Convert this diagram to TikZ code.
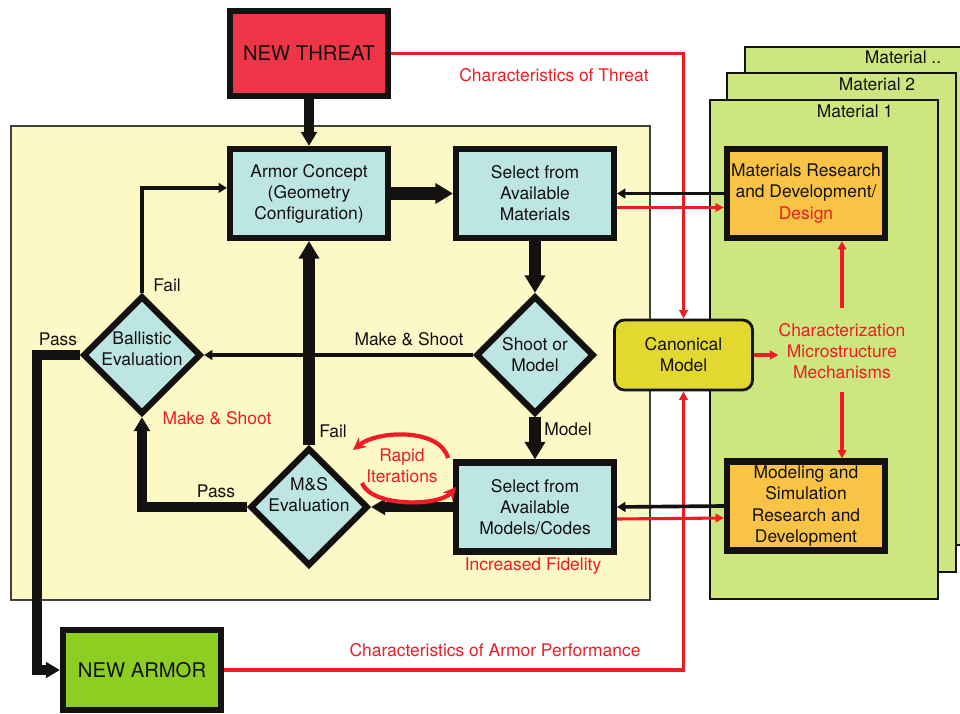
\documentclass[tikz,border=0pt]{standalone}
\usepackage{fontspec}
\setmainfont{TeX Gyre Heros}
\usetikzlibrary{shapes.geometric,arrows.meta}

\definecolor{threatred}{RGB}{238,54,72}
\definecolor{boxcyan}{RGB}{189,229,227}
\definecolor{bgyellow}{RGB}{252,249,198}
\definecolor{matgreen}{RGB}{205,230,127}
\definecolor{rdorange}{RGB}{249,196,69}
\definecolor{canonyellow}{RGB}{227,216,48}
\definecolor{armorgreen}{RGB}{140,207,34}
\definecolor{linered}{RGB}{238,28,36}
\definecolor{ink}{RGB}{20,18,16}

\newcommand{\diatext}[2]{\raisebox{#1}[0pt][0pt]{\begin{tabular}{@{}c@{}}#2\end{tabular}}}

\tikzset{
	every node/.style={font=\fontsize{12.4}{15}\selectfont, text=ink},
	bigfont/.style={font=\fontsize{14.4}{17}\selectfont},
	block/.style={draw=ink, line width=4.3pt, fill=boxcyan, minimum width=3.95cm, minimum height=2.225cm, align=center, inner sep=0pt},
	decision/.style={diamond, aspect=1, draw=ink, line width=4.3pt, fill=boxcyan, minimum size=2.95cm, align=center, inner sep=0pt},
	fatflow/.style={draw=ink, line width=9.2pt, -{Triangle[length=12.5pt,width=14pt]}},
	flow/.style={draw=ink, line width=6.8pt, -{Triangle[length=10pt,width=11pt]}},
	thinflow/.style={draw=ink, line width=2.6pt, -{Triangle[length=6pt,width=7pt]}},
	redflow/.style={draw=linered, line width=2.2pt, -{Triangle[length=6pt,width=6pt]}},
	rapidflow/.style={draw=linered, line width=3pt, -{Stealth[length=9pt,width=9pt]}},
	sheet/.style={draw=ink, line width=1.2pt, fill=matgreen}
}

\begin{document}
\begin{tikzpicture}[x=0.025cm,y=-0.025cm]

	\useasboundingbox (0,0) rectangle (960,714);
	\clip (0,0) rectangle (960,714);

	\draw[draw=ink!80, line width=1pt, fill=bgyellow] (11,126) rectangle (650,600);
	\draw[sheet] (745,47) rectangle (990,545);
	\draw[sheet] (727,73) rectangle (956,572);
	\draw[sheet] (710,100) rectangle (938,599);
	\node (mat3) at (903,57) {Material ..};
	\node (mat2) at (877,84) {Material 2};
	\node (mat1) at (855,111) {Material 1};

	\node[block, fill=threatred, minimum height=2.125cm, bigfont] (threat) at (309,53.5) {NEW THREAT};
	\node[block] (concept) at (309,193.5) {Armor Concept\\(Geometry\\Configuration)};
	\node[block] (selmat) at (535,193.5) {Select from\\Available\\Materials};
	\node[decision] (shoot) at (535,355) {Shoot or\\Model};
	\node[decision] (ballistic) at (142,355) {\diatext{0pt}{Ballistic\\Evaluation}};
	\node[decision] (mseval) at (309,507) {\diatext{0.15cm}{M\&S\\Evaluation}};
	\node[block] (selmod) at (535,507) {Select from\\Available\\Models/Codes};
	\node[block, fill=armorgreen, minimum height=2cm, bigfont] (armor) at (142,670) {NEW ARMOR};
	\node[draw=ink, line width=2pt, fill=canonyellow, rounded corners=0.25cm, minimum width=3.45cm, minimum height=1.75cm, align=center] (canon) at (683.5,355) {Canonical\\Model};
	\node[block, fill=rdorange] (matrd) at (806,193.5) {Materials Research\\and Development/\\\textcolor{linered}{Design}};
	\node[block, fill=rdorange] (msrd) at (806,506) {Modeling and\\Simulation\\Research and\\Development};
	\node[text=linered, align=center, inner sep=0pt] (charac) at (842,351) {Characterization\\Microstructure\\Mechanisms};

	\node (mslbl) at (409,339) {Make \& Shoot};
	\node (bfail) at (167,285) {Fail};
	\node (bpass) at (58,339) {Pass};
	\node[text=linered] (redshoot) at (217,418) {Make \& Shoot};
	\node (msfail) at (333,431) {Fail};
	\node (mspass) at (216,491) {Pass};
	\node (modlbl) at (568,429) {Model};
	\node[text=linered] (fidelity) at (533,566) {Increased Fidelity};
	\node[text=linered] (thrlbl) at (554,75) {Characteristics of Threat};
	\node[text=linered] (perflbl) at (495,650) {Characteristics of Armor Performance};
	\node[text=linered, align=center, inner sep=0pt] (rapid) at (402,466) {Rapid\\Iterations};

	\draw[redflow] (threat.east) -| (canon.north);
	\draw[redflow] (armor.east) -| (canon.south);

	\draw[flow] (threat) -- (concept);
	\draw[fatflow] (concept) -- (selmat);
	\draw[fatflow] (selmat) -- (shoot);
	\draw[fatflow] (shoot) -- (selmod);
	\draw[flow] (selmod) -- (mseval);
	\draw[fatflow] (mseval) -- (concept);
	\draw[flow] (mseval.west) -| (ballistic.south);
	\draw[thinflow] (shoot) -- (ballistic);
	\draw[thinflow] (ballistic.north) |- ([yshift=0.14cm]concept.west);
	\coordinate (passbend) at (37,500);
	\draw[flow] (ballistic.west) -| (passbend) |- (armor.west);

	\draw[thinflow] (matrd.west) -- (selmat.east);
	\draw[redflow] ([yshift=-0.35cm]selmat.east) -- ([yshift=-0.35cm]matrd.west);
	\draw[thinflow] (msrd.west) -- (selmod.east);
	\draw[redflow] ([yshift=-0.3cm]selmod.east) -- ([yshift=-0.3cm]msrd.west);

	\draw[redflow, line width=3.5pt] (canon.east) -- (canon.east -| charac.west);
	\draw[redflow] ([yshift=0.38cm]charac.north) -- (charac.north |- matrd.south);
	\draw[redflow] ([yshift=-0.33cm]charac.south) -- (charac.south |- msrd.north);

	\draw[rapidflow] (448,458) .. controls (440,428) and (378,430) .. (353,450);
	\draw[rapidflow] (362,483) .. controls (372,508) and (440,506) .. (456,487);

\end{tikzpicture}
\end{document}
